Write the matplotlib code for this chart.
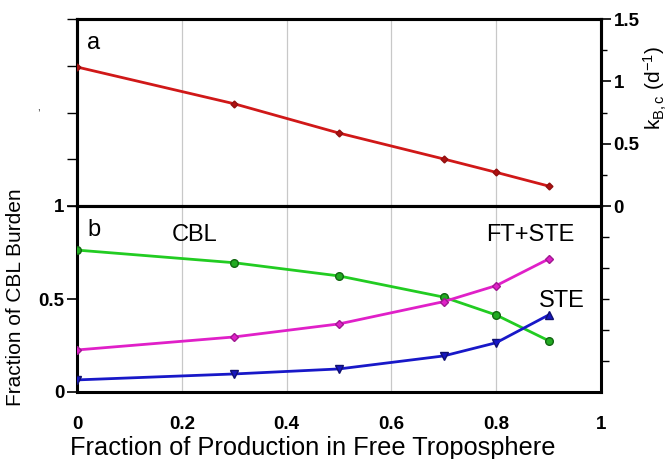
import matplotlib
matplotlib.use("Agg")
import matplotlib.pyplot as plt
from matplotlib.ticker import MultipleLocator, NullFormatter

plt.rcParams['font.family'] = ['Liberation Sans', 'DejaVu Sans']
plt.rcParams['mathtext.fontset'] = 'custom'
plt.rcParams['mathtext.rm'] = 'Liberation Sans'
plt.rcParams['mathtext.it'] = 'Liberation Sans:italic'

x_frac = [0.0, 0.3, 0.5, 0.7, 0.8, 0.9]
k_bc = [1.115, 0.82, 0.585, 0.377, 0.27, 0.16]
cbl = [0.763, 0.695, 0.624, 0.51, 0.414, 0.276]
ft_ste = [0.226, 0.296, 0.366, 0.486, 0.572, 0.715]
ste = [0.065, 0.097, 0.124, 0.194, 0.265, 0.414]

xticks = [0, 0.2, 0.4, 0.6, 0.8, 1]
xticklabels = ['0', '0.2', '0.4', '0.6', '0.8', '1']

TICK_FS = 13.5

fig = plt.figure(figsize=(6.72, 4.59), dpi=100)
L, W = 77/672, 524/672
top_a, bot_a, bot_b = 1-19/459, 1-206/459, 1-392/459
ax_a = fig.add_axes([L, bot_a, W, top_a-bot_a])
ax_b = fig.add_axes([L, bot_b, W, bot_a-bot_b])

for ax in (ax_a, ax_b):
    ax.set_xlim(0, 1)
    for s in ax.spines.values():
        s.set_linewidth(2.2)
    for gx in [0.2, 0.4, 0.6, 0.8]:
        ax.axvline(gx, color='#c8c8c8', lw=0.9, zorder=0)
    ax.set_xticks(xticks)

# Panel a: left unlabeled ticks
ax_a.set_ylim(0, 1)
ax_a.set_yticks([0, 0.25, 0.5, 0.75, 1])
ax_a.yaxis.set_major_formatter(NullFormatter())
ax_a.tick_params(axis='y', direction='out', length=7, width=1)
ax_a.tick_params(axis='x', length=0, labelbottom=False)
ax_a.text(0.02, 0.93, 'a', transform=ax_a.transAxes, fontsize=17, va='top')

# Panel a: right labeled axis with data
ax_ar = ax_a.twinx()
ax_ar.set_xlim(0, 1)
for s in ax_ar.spines.values():
    s.set_linewidth(2.2)
ax_ar.plot(x_frac, k_bc, color='#d01818', lw=2, marker='D', ms=3.5,
           mfc='#b01010', mec='#901010', zorder=3)
ax_ar.set_ylim(0, 1.5)
ax_ar.set_yticks([0, 0.5, 1, 1.5])
ax_ar.set_yticklabels(['0', '0.5', '1', '1.5'])
ax_ar.yaxis.set_minor_locator(MultipleLocator(0.25))
ax_ar.tick_params(axis='y', which='major', direction='out', length=7, width=1.2,
                  labelsize=TICK_FS, pad=2)
ax_ar.tick_params(axis='y', which='minor', direction='out', length=4, width=1)
for t in ax_ar.get_yticklabels():
    t.set_fontweight('bold')
fig.text(655/672, 1-88/459, r'k$_{\rm B,c}$ (d$^{-1}$)', fontsize=15,
         rotation=90, ha='center', va='center')

# Panel b
ax_b.plot(x_frac, cbl, color='#22cc22', lw=2, marker='o', ms=5.5,
          mfc='#22aa22', mec='#116611', zorder=3)
ax_b.plot(x_frac, ft_ste, color='#e020c8', lw=2, marker='D', ms=4,
          mfc='#e020c8', mec='#a01890', zorder=3)
ax_b.plot(x_frac[:-1], ste[:-1], color='#1818c8', lw=2, marker='v', ms=5.5,
          mfc='#1818c0', mec='#101070', zorder=3)
ax_b.plot(x_frac[-2:], ste[-2:], color='#1818c8', lw=2, zorder=3)
ax_b.plot(x_frac[-1:], ste[-1:], ls='none', marker='^', ms=5.5,
          mfc='#1818c0', mec='#101070', zorder=4)
ax_b.set_ylim(0, 1)
ax_b.set_yticks([0, 0.5, 1])
ax_b.set_yticklabels(['0', '0.5', '1'])
ax_b.tick_params(axis='y', direction='out', length=7, width=1.2,
                 labelsize=TICK_FS, pad=2)
for t in ax_b.get_yticklabels():
    t.set_fontweight('bold')
ax_b.set_xticklabels(xticklabels)
ax_b.tick_params(axis='x', length=0, labelsize=TICK_FS, pad=17)
for t in ax_b.get_xticklabels():
    t.set_fontweight('bold')
ax_b.set_xlabel('Fraction of Production in Free Troposphere', fontsize=18.3)
ax_b.xaxis.set_label_coords(0.45, -0.235)
ax_b.set_ylabel('Fraction of CBL Burden', fontsize=15)
ax_b.yaxis.set_label_coords(-0.1, 0.51)
ax_b.text(0.02, 0.93, 'b', transform=ax_b.transAxes, fontsize=17, va='top')
ax_b.text(0.225, 0.845, 'CBL', fontsize=17, ha='center', va='center')
ax_b.text(0.865, 0.845, 'FT+STE', fontsize=17, ha='center', va='center')
ax_b.text(0.925, 0.49, 'STE', fontsize=17, ha='center', va='center')

ax_b2 = ax_b.twinx()
ax_b2.set_ylim(0, 1)
ax_b2.set_yticks([i/6 for i in range(1, 6)])
ax_b2.yaxis.set_major_formatter(NullFormatter())
ax_b2.tick_params(axis='y', direction='out', length=6, width=1)
for s in ax_b2.spines.values():
    s.set_visible(False)

fig.text(37/672, 1-110/459, ',', fontsize=7)

fig.savefig('out.png', dpi=100)
